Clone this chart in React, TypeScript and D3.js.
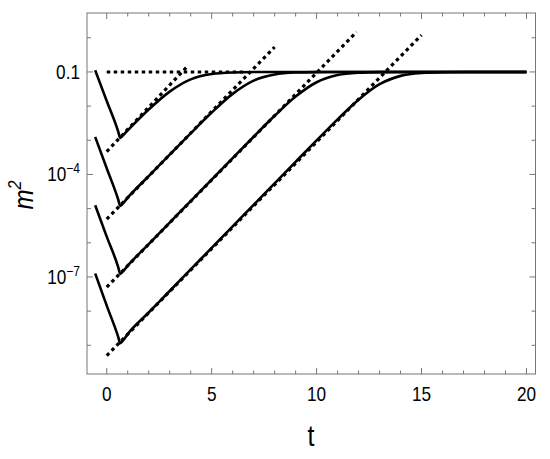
import * as d3 from "d3";
import { useEffect, useRef } from "react";

// t values shared by the solid curves
const tGrid = [-0.55, 0, 0.55, 0.64, 0.75, 1, 2, 3, 4, 5, 6, 7, 8, 9, 10, 11, 12, 13, 14, 15, 16, 17, 18, 20];

// log10(m^2) for each solid curve
const curve1 = [-0.95, -1.85, -2.75, -2.93, -2.87, -2.71, -2.1, -1.575, -1.217, -1.061, -1.015, -1.003, -1.0005, -1, -1, -1, -1, -1, -1, -1, -1, -1, -1, -1];
const curve2 = [-2.9, -3.82, -4.74, -4.92, -4.86, -4.68, -4.05, -3.422, -2.797, -2.189, -1.642, -1.254, -1.074, -1.018, -1.004, -1.001, -1, -1, -1, -1, -1, -1, -1, -1];
const curve3 = [-4.9, -5.82, -6.72, -6.91, -6.85, -6.67, -6.04, -5.41, -4.78, -4.15, -3.52, -2.896, -2.283, -1.721, -1.301, -1.092, -1.023, -1.005, -1.001, -1, -1, -1, -1, -1];
const curve4 = [-6.9, -7.84, -8.76, -8.94, -8.88, -8.67, -8.04, -7.41, -6.78, -6.15, -5.52, -4.89, -4.26, -3.63, -3.004, -2.388, -1.813, -1.359, -1.115, -1.03, -1.007, -1.0015, -1, -1];
const curves = [curve1, curve2, curve3, curve4];

// dashed asymptotes: [t start, log10 start, t end, log10 end]
const asymptotes = [
  [0, -3.33, 3.9, -0.8],
  [0, -5.31, 8.0, -0.27],
  [0, -7.3, 11.9, 0.17],
  [0, -9.3, 15.0, 0.08],
];
const plateau = [[0, -1], [6.5, -1]];

const xTicks = [0, 5, 10, 15, 20];
const yMajor = [-1, -4, -7];
const yMinor = [0, -2, -3, -5, -6, -8, -9];

const App = () => {
  const ref = useRef<SVGSVGElement>(null);

  useEffect(() => {
    const svg = d3.select(ref.current);
    svg.selectAll("*").remove();

    const left = 87, right = 535.5, top = 13, bottom = 374;
    const x = d3.scaleLinear().domain([-0.94, 20.43]).range([left, right]);
    const y = d3.scaleLog().domain([Math.pow(10, -9.84), Math.pow(10, 0.725)]).range([bottom, top]);
    const font = "'Liberation Sans', Arial, sans-serif";
    const axisColor = "#777";
    const squeeze = 0.86; // labels in the reference are narrow

    const g = svg.append("g");

    // frame
    g.append("rect")
      .attr("x", left).attr("y", top)
      .attr("width", right - left).attr("height", bottom - top)
      .attr("fill", "none").attr("stroke", axisColor).attr("stroke-width", 1);

    // x ticks, inward on bottom and top
    d3.range(0, 21).forEach(t => {
      const len = t % 5 === 0 ? 6 : 3.5;
      g.append("line").attr("x1", x(t)).attr("x2", x(t)).attr("y1", bottom).attr("y2", bottom - len)
        .attr("stroke", axisColor);
      g.append("line").attr("x1", x(t)).attr("x2", x(t)).attr("y1", top).attr("y2", top + len)
        .attr("stroke", axisColor);
    });
    xTicks.forEach(t => {
      g.append("text").attr("transform", `translate(${x(t)},401) scale(${squeeze},1)`)
        .attr("text-anchor", "middle").attr("font-family", font).attr("font-size", 20)
        .text(String(t));
    });

    // y ticks
    [...yMajor, ...yMinor].forEach(p => {
      const len = yMajor.includes(p) ? 6 : 4;
      const yy = y(Math.pow(10, p));
      g.append("line").attr("x1", left).attr("x2", left + len).attr("y1", yy).attr("y2", yy).attr("stroke", axisColor);
      g.append("line").attr("x1", right).attr("x2", right - len).attr("y1", yy).attr("y2", yy).attr("stroke", axisColor);
    });
    yMajor.forEach(p => {
      const yy = y(Math.pow(10, p));
      const txt = g.append("text").attr("transform", `translate(80,${yy + 7}) scale(${squeeze},1)`)
        .attr("text-anchor", "end").attr("font-family", font).attr("font-size", 20);
      if (p === -1) {
        txt.text("0.1");
      } else {
        txt.append("tspan").text("10");
        txt.append("tspan").attr("dy", -8).attr("font-size", 14).text("\u2212" + String(-p));
      }
    });

    // axis titles
    g.append("text").attr("transform", `translate(311,446) scale(${squeeze},1)`)
      .attr("text-anchor", "middle").attr("font-family", font).attr("font-size", 29)
      .text("t");
    const yt = g.append("text")
      .attr("transform", `translate(33,195) rotate(-90) scale(${squeeze},1)`)
      .attr("text-anchor", "middle").attr("font-family", font).attr("font-size", 28)
      .attr("font-style", "italic");
    yt.append("tspan").text("m");
    yt.append("tspan").attr("dy", -12).attr("font-size", 19).text("2");

    const line = d3.line<number[]>()
      .x(d => x(d[0]))
      .y(d => y(Math.pow(10, d[1])));

    // dotted plateau and asymptotes
    g.append("path").attr("d", line(plateau))
      .attr("fill", "none").attr("stroke", "#000").attr("stroke-width", 3)
      .attr("stroke-dasharray", "3.5,3.5");
    asymptotes.forEach(a => {
      g.append("path").attr("d", line([[a[0], a[1]], [a[2], a[3]]]))
        .attr("fill", "none").attr("stroke", "#000").attr("stroke-width", 3.2)
        .attr("stroke-dasharray", "3.5,3.5");
    });

    // solid curves
    const smooth = d3.line<number[]>()
      .x(d => x(d[0]))
      .y(d => y(Math.pow(10, d[1])))
      .curve(d3.curveMonotoneX);
    curves.forEach(c => {
      const pts = tGrid.map((t, i) => [t, c[i]]);
      g.append("path").attr("d", smooth(pts))
        .attr("fill", "none").attr("stroke", "#000").attr("stroke-width", 2.6)
        .attr("stroke-linejoin", "round");
    });
  }, []);

  return (
    <svg ref={ref} width={550} height={459}
      style={{ position: "absolute", left: 0, top: 0, background: "#fff" }} />
  );
};

export default App;
